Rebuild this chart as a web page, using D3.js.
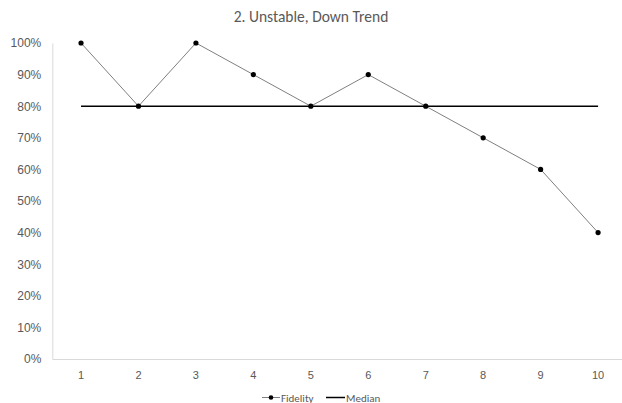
<!DOCTYPE html>
<html><head><meta charset="utf-8">
<script src="https://cdn.jsdelivr.net/npm/d3@7"></script>
<style>body{margin:0;background:#fff;}svg{display:block;font-family:Calibri,Carlito,"Open Sans",sans-serif;}</style>
</head><body>
<svg id="c" width="622" height="403"></svg>
<script>
const categories = [1,2,3,4,5,6,7,8,9,10];
const fidelity = [100,80,100,90,80,90,80,70,60,40];
const median = [80,80,80,80,80,80,80,80,80,80];
const yTicks = [0,10,20,30,40,50,60,70,80,90,100];
const title = "2. Unstable, Down Trend";

const svg = d3.select("#c");
const L = 52.3, R = 626.8, T = 43, B = 359;
const x = d3.scaleBand().domain(categories).range([L, R]);
const y = d3.scaleLinear().domain([0,100]).range([B, T]);
const cx = d => x(d) + x.bandwidth()/2;

svg.append("text").attr("x", 311).attr("y", 22).attr("text-anchor","middle")
  .attr("fill","#595959").style("font-size","15.5px").text(title);

// y axis
const ya = svg.append("g").attr("transform",`translate(${L},0)`)
  .call(d3.axisLeft(y).tickValues(yTicks).tickSize(0).tickPadding(11).tickFormat(d => d + "%"));
ya.select(".domain").attr("stroke","#d9d9d9");
ya.selectAll("text").attr("fill","#595959").style("font-size","12px").style("font-family","inherit");

// x axis
const xa = svg.append("g").attr("transform",`translate(0,${B})`)
  .call(d3.axisBottom(x).tickSize(0).tickPadding(12));
xa.select(".domain").attr("stroke","#d9d9d9");
xa.selectAll("text").attr("fill","#595959").style("font-size","11px").style("font-family","inherit");

// median line
svg.append("path").datum(categories.map((c,i)=>[c, median[i]]))
  .attr("d", d3.line().x(d=>cx(d[0])).y(d=>y(d[1])))
  .attr("fill","none").attr("stroke","#000").attr("stroke-width",1.5);

// fidelity line
svg.append("path").datum(categories.map((c,i)=>[c, fidelity[i]]))
  .attr("d", d3.line().x(d=>cx(d[0])).y(d=>y(d[1])))
  .attr("fill","none").attr("stroke","#7f7f7f").attr("stroke-width",1);
svg.selectAll("circle.pt").data(categories.map((c,i)=>[c, fidelity[i]])).enter()
  .append("circle").attr("class","pt").attr("cx",d=>cx(d[0])).attr("cy",d=>y(d[1]))
  .attr("r",2.6).attr("fill","#000");

// legend
const lg = svg.append("g");
lg.append("line").attr("x1",262).attr("x2",280).attr("y1",397.5).attr("y2",397.5).attr("stroke","#7f7f7f");
lg.append("circle").attr("cx",271).attr("cy",397.5).attr("r",2.3).attr("fill","#000");
lg.append("text").attr("x",281).attr("y",401.5).attr("fill","#595959").style("font-size","11px").text("Fidelity");
lg.append("line").attr("x1",326).attr("x2",345).attr("y1",397.5).attr("y2",397.5).attr("stroke","#000").attr("stroke-width",1.5);
lg.append("text").attr("x",346).attr("y",401.5).attr("fill","#595959").style("font-size","11px").text("Median");
</script>
</body></html>
